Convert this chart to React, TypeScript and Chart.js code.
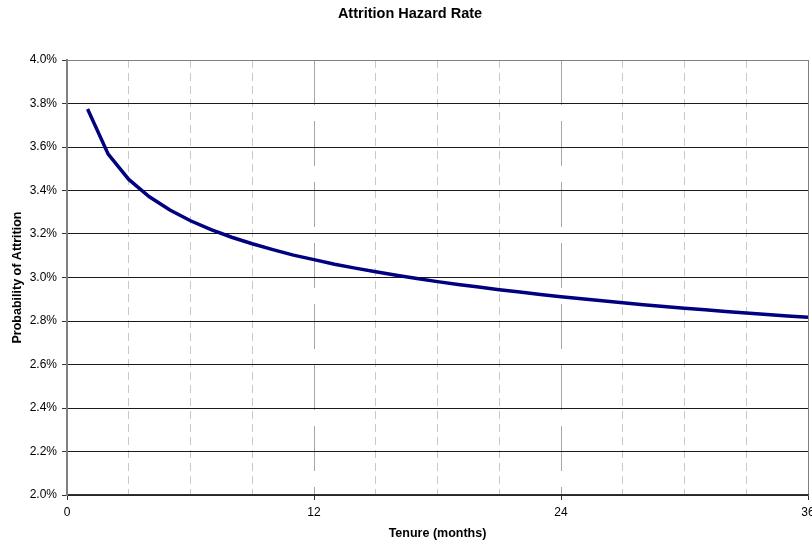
import React, { useEffect, useRef } from "react";
import { Chart, registerables } from "chart.js";

Chart.register(...registerables);

const chartTitle = "Attrition Hazard Rate";
const xTitle = "Tenure (months)";
const yTitle = "Probability of Attrition";

const months = [1, 2, 3, 4, 5, 6, 7, 8, 9, 10, 11, 12, 13, 14, 15, 16, 17, 18, 19, 20, 21, 22, 23, 24, 25, 26, 27, 28, 29, 30, 31, 32, 33, 34, 35, 36];
const hazardPct = [3.775, 3.567, 3.451, 3.371, 3.31, 3.261, 3.22, 3.185, 3.155, 3.128, 3.103, 3.082, 3.061, 3.043, 3.026, 3.01, 2.995, 2.981, 2.968, 2.956, 2.944, 2.933, 2.922, 2.912, 2.902, 2.893, 2.884, 2.875, 2.867, 2.859, 2.852, 2.844, 2.837, 2.83, 2.823, 2.817];

const xMin = 0;
const xMax = 36;
const xStep = 3;
const xLabelEvery = 12;
const yMin = 2.0;
const yMax = 4.0;
const yStep = 0.2;

const FONT = "'Liberation Sans', Arial, Helvetica, sans-serif";

export default function App() {
  const canvasRef = useRef<HTMLCanvasElement | null>(null);

  useEffect(() => {
    const canvas = canvasRef.current;
    if (!canvas) return;
    const isMajor = (v: number) => Math.abs(v % xLabelEvery) < 1e-6;
    const chart = new Chart(canvas, {
      type: "line",
      data: {
        datasets: [
          {
            label: "Hazard",
            data: months.map((m, i) => ({ x: m, y: hazardPct[i] })),
            borderColor: "#000080",
            backgroundColor: "#000080",
            borderWidth: 3.5,
            pointRadius: 0,
            tension: 0,
            fill: false,
          },
        ],
      },
      options: {
        responsive: false,
        animation: false,
        events: [],
        layout: { padding: { left: 12, right: 4, top: 0, bottom: 0 } },
        plugins: {
          legend: { display: false },
          tooltip: { enabled: false },
          title: {
            display: true,
            text: chartTitle,
            color: "#000",
            font: { family: FONT, size: 14.5, weight: "bold", lineHeight: 1.2 },
            padding: { top: 5.5, bottom: 37.1 },
          },
        },
        scales: {
          x: {
            type: "linear",
            min: xMin,
            max: xMax,
            afterFit: (s: any) => {
              s.height = 46;
              s.paddingLeft = 0;
              s.paddingRight = 0;
            },
            ticks: {
              stepSize: xStep,
              autoSkip: false,
              maxRotation: 0,
              padding: 5,
              color: "#000",
              font: { family: FONT, size: 12 },
              callback: (v: any) => (isMajor(Number(v)) ? String(v) : ""),
            },
            grid: {
              drawTicks: true,
              tickLength: 5,
              tickWidth: 1,
              tickBorderDash: [],
              lineWidth: 1,
              color: (ctx: any) => {
                const v = ctx.tick ? ctx.tick.value : 0;
                if (v === xMin || v === xMax) return "#808080";
                return isMajor(v) ? "#a6a6a6" : "#c8c8c8";
              },
              tickColor: (ctx: any) => {
                const v = ctx.tick ? ctx.tick.value : 0;
                return isMajor(v) ? "#333" : "rgba(0,0,0,0)";
              },
            },
            border: {
              display: true,
              color: "#333",
              width: 1.5,
              dash: (ctx: any) => {
                if (!ctx.tick) return [];
                const v = ctx.tick.value;
                if (v === xMin || v === xMax) return [];
                return isMajor(v) ? [45, 16] : [8, 5];
              },
            },
            title: {
              display: true,
              text: xTitle,
              color: "#000",
              font: { family: FONT, size: 12.5, weight: "bold", lineHeight: 1.2 },
              padding: { top: 0, bottom: 0 },
            },
          },
          y: {
            min: yMin,
            max: yMax,
            afterFit: (s: any) => {
              s.width = 55;
            },
            ticks: {
              stepSize: yStep,
              padding: 5,
              color: "#000",
              font: { family: FONT, size: 12 },
              callback: (v: any) => Number(v).toFixed(1) + "%",
            },
            grid: {
              drawTicks: true,
              tickLength: 5,
              tickWidth: 1,
              tickColor: "#333",
              lineWidth: 1,
              color: (ctx: any) => {
                const v = ctx.tick ? ctx.tick.value : 0;
                return Math.abs(v - yMax) < 1e-6 ? "#808080" : "#1a1a1a";
              },
            },
            border: { display: true, color: "#808080", width: 2 },
            title: {
              display: true,
              text: yTitle,
              color: "#000",
              font: { family: FONT, size: 12.5, weight: "bold", lineHeight: 1.2 },
              padding: { top: -2, bottom: 0 },
            },
          },
        },
      } as any,
    });
    return () => chart.destroy();
  }, []);

  return (
    <div style={{ position: "fixed", left: 0, top: 0, width: 812, height: 541, background: "#fff" }}>
      <canvas ref={canvasRef} width={812} height={541} style={{ display: "block", width: 812, height: 541 }} />
    </div>
  );
}
